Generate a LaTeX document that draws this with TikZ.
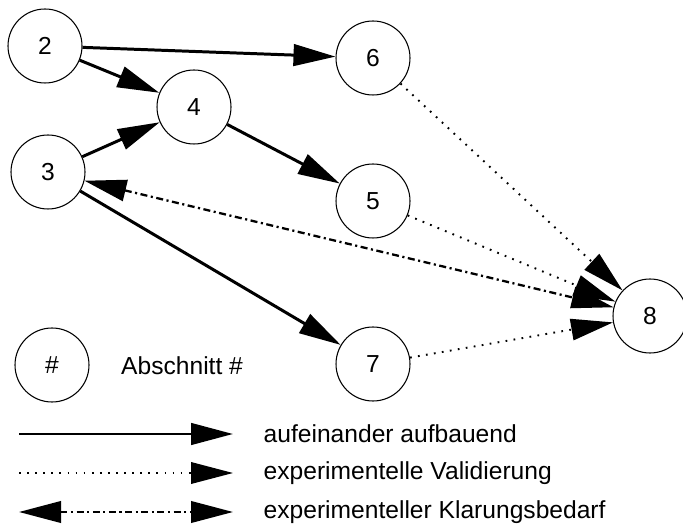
\documentclass[tikz,border=0pt]{standalone}
\usepackage{fontspec}
\setmainfont{Liberation Sans}
\usetikzlibrary{arrows.meta, positioning}

\begin{document}
\begin{tikzpicture}[>={Triangle[length=0.84cm, width=0.43cm]},
  every node/.style={font=\fontsize{14}{16}\selectfont},
  sect/.style={circle, draw, line width=0.6pt, minimum size=1.48cm, inner sep=0pt},
  builds/.style={->, line width=1.7pt},
  valid/.style={->, line width=1.1pt, dash pattern=on 1pt off 3.6pt},
  clarify/.style={<->, line width=1.3pt, dash pattern=on 4pt off 2pt on 1.2pt off 2pt}
]
  \useasboundingbox (0,0) rectangle (13.66,-10.52);

  % sections
  \node[sect] (s2) at (0.90,-0.92) {2};
  \node[sect] (s4) at (3.88,-2.14) {4};
  \node[sect] (s3) at (0.96,-3.44) {3};
  \node[sect] (s6) at (7.46,-1.16) {6};
  \node[sect] (s5) at (7.46,-4.02) {5};
  \node[sect] (s7) at (7.46,-7.28) {7};
  \node[sect] (s8) at (13.0,-6.32) {8};

  % dependencies
  \draw[builds] (s2) -- (s6);
  \draw[builds] (s2) -- (s4);
  \draw[builds] (s3) -- (s4);
  \draw[builds] (s4) -- (s5);
  \draw[builds] (s3) -- (s7);
  \draw[valid] (s6) -- (s8);
  \draw[valid] (s5) -- (s8);
  \draw[valid] (s7) -- (s8);
  \draw[clarify] (s3) -- (s8);

  % legend
  \node[sect] (key) at (1.04,-7.30) {\#};
  \node[anchor=west] (keytxt) at (2.30,-7.32) {Abschnitt \#};

  \coordinate (b1) at (0.38,-8.68);
  \coordinate (b2) at (4.66,-8.68);
  \coordinate (v1) at (0.38,-9.46);
  \coordinate (v2) at (4.66,-9.46);
  \coordinate (c1) at (0.38,-10.24);
  \coordinate (c2) at (4.66,-10.24);
  \draw[builds] (b1) -- (b2);
  \draw[valid] (v1) -- (v2);
  \draw[clarify] (c1) -- (c2);
  \node[anchor=west] (btxt) at (5.15,-8.68) {aufeinander aufbauend};
  \node[anchor=west] (vtxt) at (5.15,-9.46) {experimentelle Validierung};
  \node[anchor=west] (ctxt) at (5.15,-10.24) {experimenteller Klarungsbedarf};
\end{tikzpicture}
\end{document}
